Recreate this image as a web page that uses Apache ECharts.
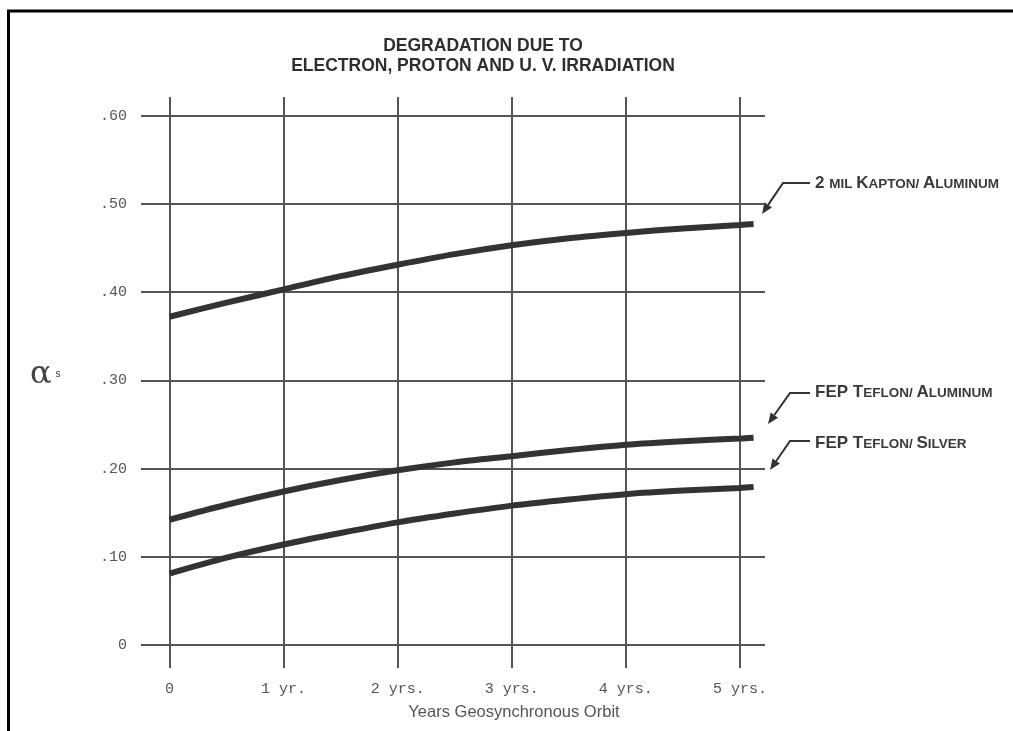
<!DOCTYPE html>
<html>
<head>
<meta charset="utf-8">
<script src="https://cdn.jsdelivr.net/npm/echarts@6/dist/echarts.min.js"></script>
<style>
html,body{margin:0;padding:0;background:#fff;}
#chart{width:1013px;height:731px;}
</style>
</head>
<body>
<div id="chart"></div>
<script>
// ---- data ----
const years = [0, 0.5, 1, 1.5, 2, 2.5, 3, 3.5, 4, 4.5, 5, 5.12];
const kaptonAluminum = [0.372, 0.388, 0.403, 0.418, 0.431, 0.443, 0.453, 0.461, 0.467, 0.472, 0.476, 0.477];
const teflonAluminum = [0.142, 0.159, 0.174, 0.187, 0.198, 0.207, 0.214, 0.221, 0.227, 0.231, 0.234, 0.235];
const teflonSilver = [0.081, 0.099, 0.114, 0.127, 0.139, 0.149, 0.158, 0.165, 0.171, 0.175, 0.178, 0.179];
const xTickValues = [0, 1, 2, 3, 4, 5];
const xTickLabels = ['0', '1 yr.', '2 yrs.', '3 yrs.', '4 yrs.', '5 yrs.'];
const yTickValues = [0, 0.1, 0.2, 0.3, 0.4, 0.5, 0.6];
const yTickLabels = ['0', '.10', '.20', '.30', '.40', '.50', '.60'];

const pairs = (xs, ys) => xs.map((x, i) => [x, ys[i]]);

const chart = echarts.init(document.getElementById('chart'), null, {renderer: 'canvas'});

const ink = '#333';
const gridColor = '#555';
const labelFont = '"Liberation Mono", "DejaVu Sans Mono", monospace';
const titleFont = '"Liberation Sans Narrow", "Liberation Sans", Arial, sans-serif';

function arrow(points, color) {
  const n = points.length;
  const tip = points[n - 1], prev = points[n - 2];
  let dx = tip[0] - prev[0], dy = tip[1] - prev[1];
  const len = Math.hypot(dx, dy); dx /= len; dy /= len;
  const hl = 11, hw = 4.5;
  const bx = tip[0] - dx * hl, by = tip[1] - dy * hl;
  const px = -dy, py = dx;
  return [
    {type: 'polyline', shape: {points: points.slice(0, n - 1).concat([[bx, by]])},
     style: {stroke: color, lineWidth: 2, fill: null}, silent: true},
    {type: 'polygon', shape: {points: [tip, [bx + px * hw, by + py * hw], [bx - px * hw, by - py * hw]]},
     style: {fill: color}, silent: true}
  ];
}

const annRich = {
  b: {fontFamily: 'Liberation Sans, Arial, sans-serif', fontWeight: 'bold', fontSize: 17, fill: '#3a3a3a', verticalAlign: 'bottom'},
  s: {fontFamily: 'Liberation Sans, Arial, sans-serif', fontWeight: 'bold', fontSize: 13.5, fill: '#3a3a3a', verticalAlign: 'bottom'}
};

const option = {
  backgroundColor: '#fff',
  animation: false,
  grid: {left: 141, right: 248, top: 97, bottom: 63},
  xAxis: {
    type: 'value', min: -0.25, max: 5.22,
    axisLine: {show: false},
    axisTick: {show: false, customValues: xTickValues},
    axisLabel: {
      customValues: xTickValues,
      formatter: v => xTickLabels[xTickValues.indexOf(v)],
      fontFamily: labelFont, fontSize: 15, color: '#555', margin: 14
    },
    splitLine: {show: true, lineStyle: {color: gridColor, width: 2}}
  },
  yAxis: {
    type: 'value', min: -0.026, max: 0.621,
    name: '{a|α} {s|s}',
    nameLocation: 'middle', nameRotate: 0, nameGap: 80,
    nameTextStyle: {
      padding: [0, 0, 16, 0],
      rich: {
        a: {fontFamily: 'DejaVu Serif, serif', fontSize: 32, color: '#444'},
        s: {fontFamily: labelFont, fontSize: 10, color: '#444'}
      }
    },
    axisLine: {show: false},
    axisTick: {show: false, customValues: yTickValues},
    axisLabel: {
      customValues: yTickValues,
      formatter: v => yTickLabels[yTickValues.indexOf(v)],
      fontFamily: labelFont, fontSize: 15, color: '#555', margin: 14
    },
    splitLine: {show: true, lineStyle: {color: gridColor, width: 2}}
  },
  series: [
    {name: '2 mil Kapton/ Aluminum', type: 'line', smooth: 0.3, showSymbol: false,
     data: pairs(years, kaptonAluminum), lineStyle: {color: ink, width: 6}, z: 5},
    {name: 'FEP Teflon/ Aluminum', type: 'line', smooth: 0.3, showSymbol: false,
     data: pairs(years, teflonAluminum), lineStyle: {color: ink, width: 6}, z: 5},
    {name: 'FEP Teflon/ Silver', type: 'line', smooth: 0.3, showSymbol: false,
     data: pairs(years, teflonSilver), lineStyle: {color: ink, width: 6}, z: 5}
  ],
  graphic: [
    // frame
    {type: 'line', shape: {x1: 7, y1: 11, x2: 1013, y2: 11}, style: {stroke: '#000', lineWidth: 3}, silent: true},
    {type: 'line', shape: {x1: 8.5, y1: 10, x2: 8.5, y2: 731}, style: {stroke: '#000', lineWidth: 3}, silent: true},
    // title
    {type: 'text', x: 483, y: 46, style: {text: 'DEGRADATION DUE TO', align: 'center', verticalAlign: 'middle',
      font: 'bold 17.5px ' + titleFont, fill: '#2e2e2e'}},
    {type: 'text', x: 483, y: 66, style: {text: 'ELECTRON, PROTON AND U. V. IRRADIATION', align: 'center', verticalAlign: 'middle',
      font: 'bold 17.5px ' + titleFont, fill: '#2e2e2e'}},
    // x axis name
    {type: 'text', x: 514, y: 712, style: {text: 'Years Geosynchronous Orbit', align: 'center', verticalAlign: 'middle',
      font: '16.5px ' + titleFont, fill: '#555'}},
    // annotations
    {type: 'text', x: 815, y: 183, style: {text: '{b|2 }{s|MIL }{b|K}{s|APTON/ }{b|A}{s|LUMINUM}', rich: annRich, align: 'left', verticalAlign: 'middle'}},
    {type: 'text', x: 815, y: 392, style: {text: '{b|FEP T}{s|EFLON/ }{b|A}{s|LUMINUM}', rich: annRich, align: 'left', verticalAlign: 'middle'}},
    {type: 'text', x: 815, y: 443, style: {text: '{b|FEP T}{s|EFLON/ }{b|S}{s|ILVER}', rich: annRich, align: 'left', verticalAlign: 'middle'}},
    ...arrow([[810, 183], [783, 183], [762, 214]], '#333'),
    ...arrow([[810, 393], [790, 393], [768, 424]], '#333'),
    ...arrow([[810, 441], [790, 441], [770, 470]], '#333')
  ]
};
chart.setOption(option);
</script>
</body>
</html>
